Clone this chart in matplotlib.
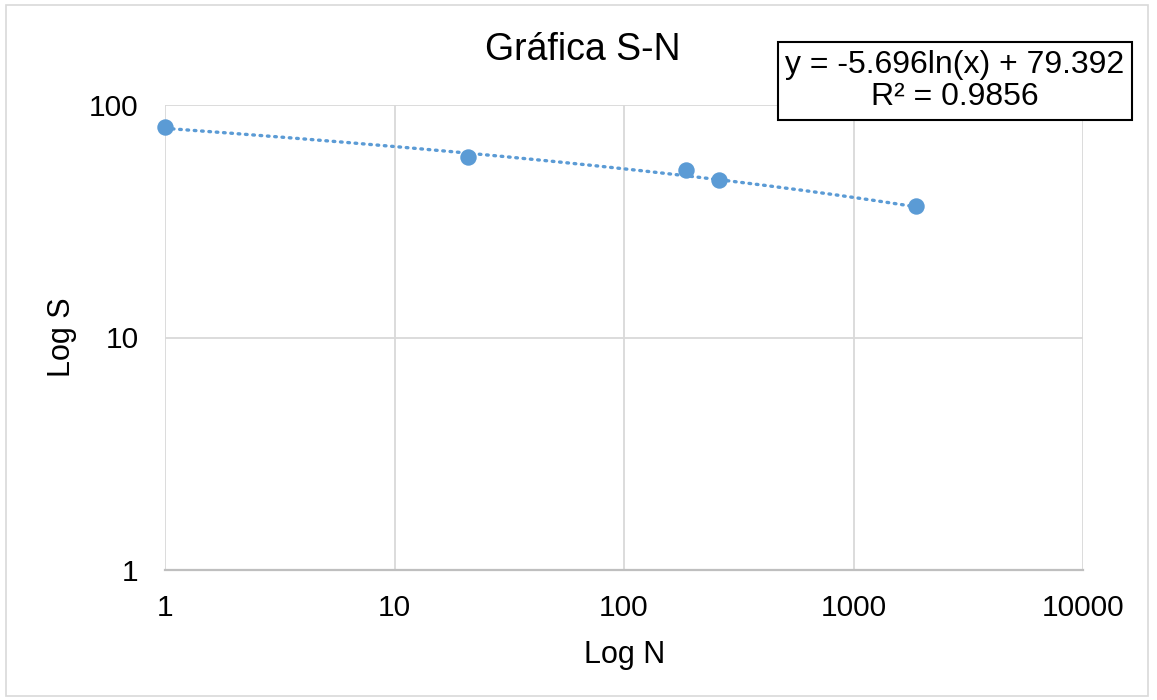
import numpy as np
import matplotlib.pyplot as plt
from matplotlib.patches import Rectangle

plt.rcParams['font.family'] = ['Liberation Sans', 'DejaVu Sans']

# Datos
ciclos_N = [1, 21, 186, 259, 1872]
esfuerzo_S = [80.4, 59.7, 52.5, 47.5, 36.8]

# Línea de tendencia logarítmica (de la etiqueta)
pendiente = -5.696
intercepto = 79.392
r2 = 0.9856

x_ticks = [1, 10, 100, 1000, 10000]
y_ticks = [1, 10, 100]

color = '#5b9bd5'
grid_c = '#d9d9d9'

fig = plt.figure(figsize=(11.57, 7.0), dpi=100)
ax = fig.add_axes([165 / 1157, 1 - 570 / 700, (1083 - 165) / 1157, (570 - 105) / 700])

ax.set_xscale('log')
ax.set_yscale('log')
ax.set_xlim(1, 10000)
ax.set_ylim(1, 100)

xt = np.geomspace(min(ciclos_N), max(ciclos_N), 200)
ax.plot(xt, pendiente * np.log(xt) + intercepto, color=color, lw=2.4,
        linestyle=(0, (0.5, 1.7)), dash_capstyle='round', zorder=2)
ax.scatter(ciclos_N, esfuerzo_S, s=140, color=color, zorder=3, linewidths=0, clip_on=False)

ax.set_xticks(x_ticks)
ax.set_xticklabels([str(v) for v in x_ticks])
ax.set_yticks(y_ticks)
ax.set_yticklabels([str(v) for v in y_ticks])
ax.minorticks_off()
ax.tick_params(length=0, labelsize=21.5, pad=17)
ax.tick_params(axis='y', pad=19)

ax.grid(True, color=grid_c, lw=1.3)
ax.set_axisbelow(True)
for s in ['top', 'right', 'left']:
    ax.spines[s].set_visible(False)
ax.spines['bottom'].set_color('#bfbfbf')
ax.spines['bottom'].set_linewidth(1.6)

fig.text(583 / 1157, 1 - 50 / 700, 'Gráfica S-N', ha='center', va='center', fontsize=27)
fig.text(625 / 1157, 1 - 655 / 700, 'Log N', ha='center', va='center', fontsize=22)
fig.text(62 / 1157, 1 - 337 / 700, 'Log S', ha='center', va='center', fontsize=22, rotation=90)

fig.text(955 / 1157, 1 - 81 / 700,
         f'y = {pendiente}ln(x) + {intercepto}\nR² = {r2}',
         ha='center', va='center', fontsize=23, linespacing=1.12,
         bbox=dict(boxstyle='square,pad=0.24', fc='white', ec='black', lw=1.5))

fig.patches.append(Rectangle((6 / 1157, 4 / 700), 1142 / 1157, 691 / 700,
                             transform=fig.transFigure, fill=False, ec='#d9d9d9', lw=1.2))

fig.savefig('out.png', dpi=100)
